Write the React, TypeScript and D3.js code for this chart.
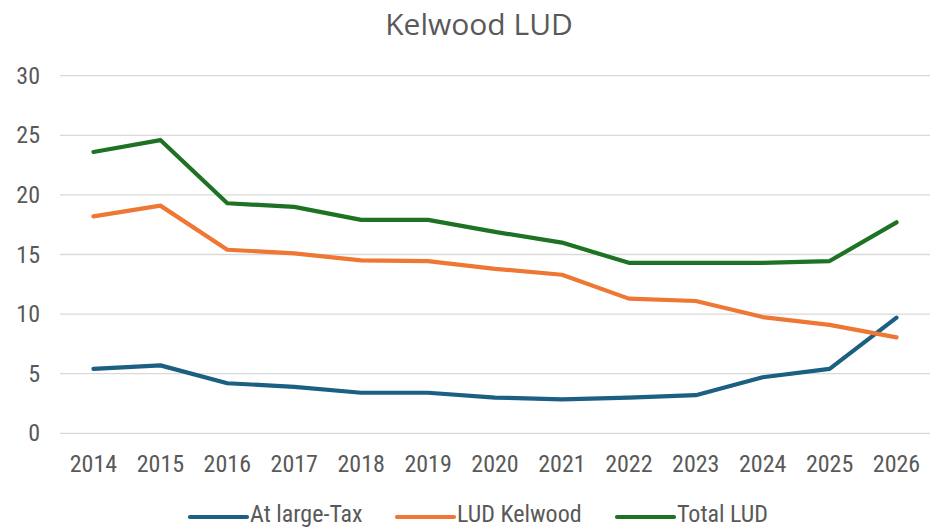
import React, { useEffect, useRef } from "react"
import * as d3 from "d3"

const years = ["2014", "2015", "2016", "2017", "2018", "2019", "2020", "2021", "2022", "2023", "2024", "2025", "2026"]
const atLargeTax = [5.4, 5.7, 4.2, 3.9, 3.4, 3.4, 3.0, 2.85, 3.0, 3.2, 4.7, 5.4, 9.7]
const ludKelwood = [18.2, 19.1, 15.4, 15.1, 14.5, 14.45, 13.8, 13.3, 11.3, 11.1, 9.75, 9.1, 8.05]
const totalLud = [23.6, 24.6, 19.3, 19.0, 17.9, 17.9, 16.9, 16.0, 14.3, 14.3, 14.3, 14.45, 17.7]
const yTicks = [0, 5, 10, 15, 20, 25, 30]

const series = [
  { name: "At large-Tax", values: atLargeTax, color: "#1b5f83" },
  { name: "LUD Kelwood", values: ludKelwood, color: "#ee7733" },
  { name: "Total LUD", values: totalLud, color: "#1e7223" },
]

const font = "'Liberation Sans Narrow', 'Roboto Condensed', Arial, sans-serif"

export default function App() {
  const ref = useRef<SVGSVGElement>(null)

  useEffect(() => {
    const svg = d3.select(ref.current)
    svg.selectAll("*").remove()

    const x = d3.scalePoint().domain(years).range([60, 930]).padding(0.5)
    const y = d3.scaleLinear().domain([0, 30]).range([433.3, 75.7])

    // заголовок
    svg.append("text")
      .attr("x", 479).attr("y", 35)
      .attr("text-anchor", "middle")
      .attr("font-family", "'Open Sans', Lato, sans-serif")
      .attr("font-size", 30)
      .attr("fill", "#595959")
      .text("Kelwood LUD")

    // сетка
    svg.append("g").selectAll("line").data(yTicks).join("line")
      .attr("x1", 60).attr("x2", 930)
      .attr("y1", d => y(d)).attr("y2", d => y(d))
      .attr("stroke", "#d9d9d9").attr("stroke-width", 1.3)

    svg.append("g").selectAll("text").data(yTicks).join("text")
      .attr("x", 40).attr("y", d => y(d) + 8)
      .attr("text-anchor", "end")
      .attr("font-family", font).attr("font-size", 24)
      .attr("fill", "#595959")
      .text(d => d)

    svg.append("g").selectAll("text").data(years).join("text")
      .attr("x", d => x(d)!).attr("y", 472)
      .attr("text-anchor", "middle")
      .attr("font-family", font).attr("font-size", 24)
      .attr("fill", "#595959")
      .text(d => d)

    const line = d3.line<number>()
      .x((_, i) => x(years[i])!)
      .y(d => y(d))

    svg.append("g").selectAll("path").data(series).join("path")
      .attr("d", d => line(d.values))
      .attr("fill", "none")
      .attr("stroke", d => d.color)
      .attr("stroke-width", 4.2)
      .attr("stroke-linejoin", "round")
      .attr("stroke-linecap", "round")

    // легенда
    const legendX = [190, 397, 617]
    const lg = svg.append("g").selectAll("g").data(series).join("g")
      .attr("transform", (_, i) => `translate(${legendX[i]},517)`)
    lg.append("line")
      .attr("x1", 0).attr("x2", 57)
      .attr("stroke", d => d.color).attr("stroke-width", 4.2)
      .attr("stroke-linecap", "round")
    lg.append("text")
      .attr("x", 60).attr("y", 5)
      .attr("font-family", font).attr("font-size", 24)
      .attr("fill", "#595959")
      .text(d => d.name)
  }, [])

  return (
    <svg ref={ref} width={936} height={527}
      style={{ position: "absolute", left: 0, top: 0, background: "#fff" }} />
  )
}
